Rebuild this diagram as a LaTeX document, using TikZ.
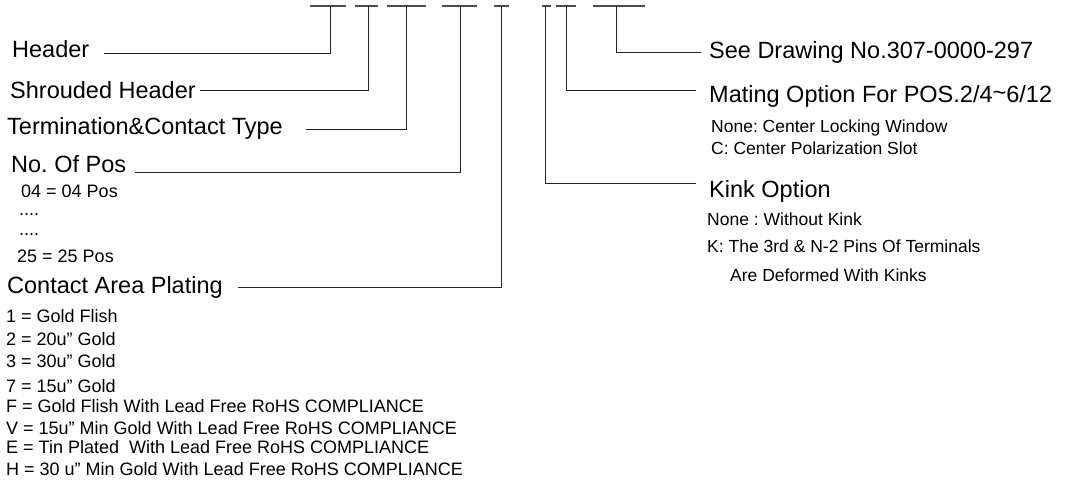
\documentclass[tikz,border=0pt]{standalone}
\usepackage{fontspec}
\setmainfont{Liberation Sans}[Ligatures=NoCommon]
\newcommand{\qd}{\char34\relax}
\frenchspacing
\begin{document}
\begin{tikzpicture}[x=1pt,y=-1pt,
  big/.style={anchor=base west,inner sep=0pt,font=\fontsize{23.5}{26}\selectfont},
  sml/.style={anchor=base west,inner sep=0pt,font=\fontsize{18}{20}\selectfont},
  smr/.style={anchor=base west,inner sep=0pt,font=\fontsize{17.5}{20}\selectfont},
  conn/.style={draw=black!85,line width=1pt},
  dashbar/.style={draw=black!70,line width=1.3pt}]
\useasboundingbox (0,0) rectangle (1069,482);
% top code dashes
\draw[dashbar] (310,6) -- (346,6);
\draw[dashbar] (355,6) -- (378,6);
\draw[dashbar] (387,6) -- (426,6);
\draw[dashbar] (442,6) -- (477,6);
\draw[dashbar] (494,6) -- (509,6);
\draw[dashbar] (542,6) -- (551,6);
\draw[dashbar] (556,6) -- (576,6);
\draw[dashbar] (593,6) -- (645,6);
\coordinate (d1) at (330,6);
\coordinate (d2) at (368,6);
\coordinate (d3) at (406,6);
\coordinate (d4) at (460,6);
\coordinate (d5) at (501,6);
\coordinate (d6) at (545,6);
\coordinate (d7) at (566,6);
\coordinate (d8) at (616,6);
% left labels
\node[big] (hdr) at (12,57) {Header};
\node[big] (shr) at (10,98) {Shrouded Header};
\node[big] (term) at (7,134) {Termination\&Contact Type};
\node[big] (npos) at (11,172) {No. Of Pos};
\node[sml] (p1) at (21,197) {04 = 04 Pos};
\node[sml] (p2) at (19,215) {....};
\node[sml] (p3) at (19,235) {....};
\node[sml] (p4) at (17,262) {25 = 25 Pos};
\node[big] (cap) at (7,293) {Contact Area Plating};
\node[sml] (c1) at (6,322) {1 = Gold Flish};
\node[sml] (c2) at (6,345) {2 = 20u\qd{} Gold};
\node[sml] (c3) at (6,367) {3 = 30u\qd{} Gold};
\node[sml] (c4) at (6,392) {7 = 15u\qd{} Gold};
\node[sml] (c5) at (6,412) {F = Gold Flish With Lead Free RoHS COMPLIANCE};
\node[sml] (c6) at (6,434) {V = 15u\qd{} Min Gold With Lead Free RoHS COMPLIANCE};
\node[sml] (c7) at (6,453) {E = Tin Plated\ \ With Lead Free RoHS COMPLIANCE};
\node[sml] (c8) at (6,475) {H = 30 u\qd{} Min Gold With Lead Free RoHS COMPLIANCE};
% right labels
\node[big] (see) at (709,58) {See Drawing No.307-0000-297};
\node[big] (mat) at (709,102) {Mating Option For POS.2/4\raisebox{0.15ex}{\char"7E}6/12};
\node[smr] (m1) at (711,132) {None: Center Locking Window};
\node[smr] (m2) at (711,154) {C: Center Polarization Slot};
\node[big] (kink) at (709,197) {Kink Option};
\node[smr] (k1) at (707,225) {None : Without Kink};
\node[smr] (k2) at (707,252) {K: The 3rd \& N-2 Pins Of Terminals};
\node[smr] (k3) at (730,281) {Are Deformed With Kinks};
% connector start points
\coordinate (s1) at (104,53);
\coordinate (s2) at (200,90);
\coordinate (s3) at (306,129);
\coordinate (s4) at (135,172);
\coordinate (s5) at (238,287);
\coordinate (e6) at (696,183);
\coordinate (e7) at (696,90);
\coordinate (e8) at (701,52);
% connectors
\draw[conn] (s1) -| (d1);
\draw[conn] (s2) -| (d2);
\draw[conn] (s3) -| (d3);
\draw[conn] (s4) -| (d4);
\draw[conn] (s5) -| (d5);
\draw[conn] (e6) -| (d6);
\draw[conn] (e7) -| (d7);
\draw[conn] (e8) -| (d8);
\end{tikzpicture}
\end{document}
